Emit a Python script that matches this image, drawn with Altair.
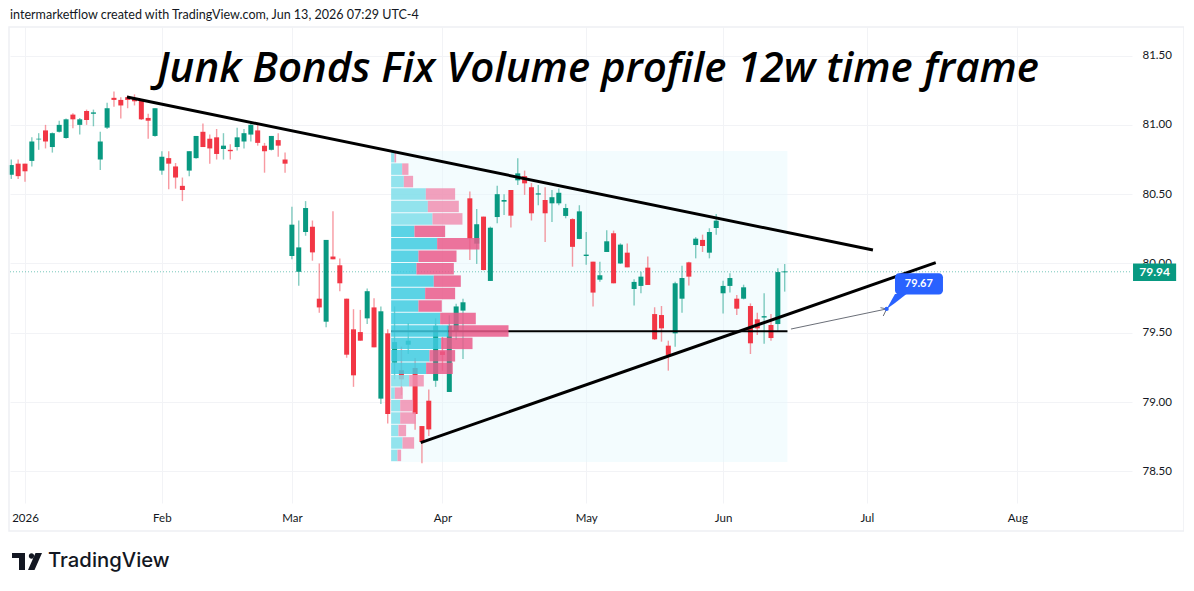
import altair as alt
import pandas as pd

highs = [80.75,80.75,80.72,80.91,80.94,81.00,80.945,81.03,81.045,81.084,81.05,81.11,81.11,80.95,81.16,81.24,81.20,81.21,81.22,81.18,81.08,81.12,80.81,80.81,80.725,80.62,80.81,80.92,81.01,80.93,80.97,80.94,80.86,80.98,80.97,81.02,81.01,80.87,80.92,80.94,80.80,
 80.41,80.31,80.45,80.31,80.0,80.17,80.376,80.035,79.746,79.67,79.665,79.82,79.75,79.69,79.525,79.69,79.40,79.57,79.318,78.827,79.09,79.604,79.47,79.626,79.71,79.745,
 80.52,80.393,80.338,80.266,80.56,80.5,80.53,80.76,80.67,80.58,80.566,80.55,80.53,80.54,80.43,80.326,80.42,80.227,80.013,80.013,80.24,80.237,80.145,80.145,79.886,79.94,80.05,
 79.684,79.693,79.443,79.869,79.984,80.013,80.19,80.208,80.254,80.357,79.876,79.929,79.772,79.847,79.712,79.645,79.785,79.635,79.965,79.996]
opens = [80.64,80.72,80.72,80.74,80.895,80.96,80.84,80.95,80.905,81.074,81.00,81.10,81.08,80.75,80.98,81.195,81.18,81.20,81.19,81.175,81.05,80.92,80.67,80.76,80.70,80.56,80.67,80.76,80.95,80.90,80.91,80.826,80.82,80.84,80.88,80.93,80.96,80.85,80.82,80.89,80.75,
 80.054,79.94,80.227,80.265,79.746,79.58,80.05,79.987,79.746,79.525,79.505,79.604,79.683,79.025,79.496,79.284,79.23,79.414,79.246,78.827,79.01,79.154,79.366,79.073,79.51,79.66,
 80.47,80.143,80.338,79.874,80.335,80.446,80.53,80.6,80.63,80.55,80.497,80.458,80.434,80.434,80.343,80.32,80.177,80.054,80.013,79.883,80.083,80.218,80.0,80.078,79.816,79.838,79.97,
 79.635,79.628,79.407,79.496,79.746,80.008,80.133,80.17,80.078,80.256,79.785,79.838,79.746,79.746,79.693,79.597,79.61,79.556,79.563,79.936]
closes = [80.71,80.63,80.665,80.88,80.90,80.88,80.94,81.00,81.04,81.04,81.04,81.035,81.09,80.88,81.12,81.18,81.14,81.18,81.17,81.04,81.03,81.12,80.77,80.72,80.62,80.53,80.81,80.92,80.84,80.83,80.79,80.85,80.81,80.91,80.94,81.00,80.87,80.81,80.92,80.85,80.72,
 80.28,80.116,80.40,80.08,79.683,80.17,80.03,79.857,79.342,79.193,79.443,79.80,79.395,79.655,78.914,79.433,79.164,79.443,78.914,78.712,78.803,79.55,79.34,79.55,79.69,79.72,
 80.18,80.283,79.953,80.258,80.5,80.458,80.345,80.65,80.578,80.362,80.506,80.362,80.478,80.51,80.40,80.12,80.376,80.064,79.79,79.915,80.16,79.857,80.136,79.972,79.867,79.905,79.845,
 79.453,79.532,79.34,79.857,79.895,79.905,80.179,80.126,80.227,80.309,79.838,79.895,79.674,79.828,79.424,79.532,79.62,79.462,79.938,79.943]
lows = [80.61,80.61,80.59,80.70,80.82,80.83,80.80,80.945,80.90,80.975,80.93,81.00,80.99,80.675,80.97,81.13,81.045,81.12,81.14,81.035,80.90,80.915,80.64,80.535,80.54,80.45,80.63,80.755,80.84,80.72,80.75,80.75,80.75,80.815,80.83,80.88,80.85,80.655,80.815,80.77,80.655,
 80.03,79.84,80.20,80.02,79.645,79.54,80.03,79.80,79.32,79.11,79.443,79.563,79.395,78.986,78.846,79.164,79.05,79.347,78.80,78.558,78.755,79.11,79.226,79.073,79.45,79.31,
 80.025,79.997,79.95,79.874,80.29,80.35,80.26,80.567,80.495,80.31,80.42,80.155,80.30,80.42,80.326,79.977,80.175,79.99,79.689,79.869,80.083,79.857,79.997,79.972,79.696,79.785,79.845,
 79.448,79.436,79.227,79.40,79.645,79.842,80.037,80.083,80.037,80.208,79.64,79.79,79.628,79.741,79.347,79.484,79.42,79.443,79.515,79.797]

vp_buy = [0.49,1.61,1.85,5.07,5.36,6.04,3.41,6.72,3.99,3.70,6.23,4.97,3.99,7.16,8.38,7.31,5.60,5.11,2.63,0.54,1.32,1.32,1.07,1.66,0.93]
vp_total = [0.73,2.53,3.21,9.35,9.89,10.42,7.89,12.91,9.55,9.16,10.18,9.35,7.40,12.37,17.15,11.89,9.35,9.01,4.77,1.70,3.21,3.60,2.19,3.36,1.46]
value_area_rows = range(6, 18)

month_ticks = [0, 20, 39, 61, 82, 102, 123, 145]
month_names = ["2026", "Feb", "Mar", "Apr", "May", "Jun", "Jul", "Aug"]
price_ticks = [78.5, 79.0, 79.5, 80.0, 80.5, 81.0, 81.5]

line_a = {"i": [14.9, 123.9], "p": [81.201, 80.097]}
line_b = {"i": [57.82, 133.07], "p": [78.707, 80.006]}
poc = {"i": [53.5, 111.41], "p": [79.511, 79.511]}
arrow = {"i": [111.92, 125.9], "p": [79.527, 79.672]}
barb1 = {"i": [125.0, 125.9], "p": [79.681, 79.672]}
barb2 = {"i": [125.4, 125.9], "p": [79.621, 79.672]}

GREEN, RED, INK = "#089981", "#F23645", "#131722"
FONT = "Lato"
XD, YD = [-2.19, 161.75], [78.272, 81.706]

month_map = ",".join(f"'{t}':'{n}'" for t, n in zip(month_ticks, month_names))
xaxis = alt.Axis(values=month_ticks, labelExpr="{" + month_map + "}[datum.value]", title=None,
                 tickSize=0, domain=False, grid=True, gridColor="#f2f3f6", gridWidth=1,
                 labelColor=INK, labelFont=FONT, labelFontSize=11.5, labelPadding=9,
                 labelOverlap=False, labelFlush=False, labelBound=False)
yaxis = alt.Axis(values=price_ticks, format=".2f", orient="right", title=None, tickSize=0,
                 domain=False, grid=True, gridColor="#f2f3f6", gridWidth=1, labelColor=INK,
                 labelFont=FONT, labelFontSize=11.5, labelPadding=10, labelOverlap=False,
                 labelFlush=False, labelBound=False)
X = lambda f: alt.X(f, type="quantitative", scale=alt.Scale(domain=XD, nice=False, zero=False, padding=0), title=None, axis=xaxis)
Y = lambda f: alt.Y(f, type="quantitative", scale=alt.Scale(domain=YD, nice=False, zero=False, padding=0), title=None, axis=yaxis)

candles = pd.DataFrame({"i": [n - 2 for n in range(len(highs))], "o": opens, "h": highs, "l": lows, "c": closes})
is_up = "datum.c >= datum.o"

step = 0.0898
top = 80.812
start = 53.5
vp = pd.DataFrame({
    "top": [top - k * step for k in range(25)],
    "bot": [top - (k + 1) * step + 0.007 for k in range(25)],
    "x0": [start] * 25,
    "x1": [start + b for b in vp_buy],
    "x2": [start + t for t in vp_total],
    "va": [k in value_area_rows for k in range(25)],
})

one = pd.DataFrame({"a": [0]})
box = alt.Chart(pd.DataFrame({"a": [53.5], "b": [111.41], "t": [80.812], "u": [78.568]})).mark_rect(
    color="#e4f8fc", opacity=0.45).encode(x=X("a"), x2="b", y=Y("t"), y2="u")
cur = alt.Chart(pd.DataFrame({"i": XD, "p": [79.94, 79.94]})).mark_line(
    color=GREEN, strokeDash=[1, 2], strokeWidth=1, opacity=0.55).encode(x=X("i"), y=Y("p"))
wicks = alt.Chart(candles).mark_rule(strokeWidth=1.4, opacity=0.5).encode(
    x=X("i"), y=Y("h"), y2="l",
    color=alt.condition(is_up, alt.value(GREEN), alt.value(RED)))
bodies = alt.Chart(candles).mark_bar(size=5, orient="vertical").encode(
    x=X("i"), y=Y("o"), y2="c",
    color=alt.condition(is_up, alt.value(GREEN), alt.value(RED)))


def path(d, color, width, **kw):
    return alt.Chart(pd.DataFrame(d)).mark_line(color=color, strokeWidth=width, strokeCap="butt", **kw).encode(
        x=X("i"), y=Y("p"))


poc_line = path(poc, "#000000", 2.2)
vp_b = alt.Chart(vp).mark_rect(opacity=0.85).encode(
    x=X("x0"), x2="x1", y=Y("top"), y2="bot",
    color=alt.condition("datum.va", alt.value("#3fcbe0"), alt.value("#80deea")))
vp_s = alt.Chart(vp).mark_rect(opacity=0.85).encode(
    x=X("x1"), x2="x2", y=Y("top"), y2="bot",
    color=alt.condition("datum.va", alt.value("#ea5a8b"), alt.value("#f08fb1")))

la = path(line_a, "#000000", 3)
lb = path(line_b, "#000000", 3)
ar = path(arrow, "#6b6f78", 1)
b1 = path(barb1, "#6b6f78", 1)
b2 = path(barb2, "#6b6f78", 1)

BLUE = "#2962FF"
wedge = alt.Chart(pd.DataFrame({"i": [125.9, 127.12, 128.8], "p": [79.672, 79.78, 79.78], "q": [79.672, 79.714, 79.78]})).mark_area(
    color=BLUE).encode(x=X("i"), y=Y("p"), y2="q")
callout = alt.Chart(pd.DataFrame({"a": [127.12], "b": [134.13], "t": [79.929], "u": [79.776]})).mark_rect(
    color=BLUE, cornerRadius=4).encode(x=X("a"), x2="b", y=Y("t"), y2="u")
dot = alt.Chart(pd.DataFrame({"i": [125.9], "p": [79.672]})).mark_circle(color=BLUE, size=18, opacity=1).encode(
    x=X("i"), y=Y("p"))
callout_t = alt.Chart(pd.DataFrame({"i": [130.6], "p": [79.853], "t": ["79.67"]})).mark_text(
    color="white", font=FONT, fontSize=11, fontWeight="bold").encode(x=X("i"), y=Y("p"), text="t")
price_box = alt.Chart(pd.DataFrame({"a": [161.9], "b": [168.2], "t": [79.999], "u": [79.874]})).mark_rect(
    color=GREEN).encode(x=X("a"), x2="b", y=Y("t"), y2="u")
price_t = alt.Chart(pd.DataFrame({"i": [165.05], "p": [79.936], "t": ["79.94"]})).mark_text(
    color="white", font=FONT, fontSize=12, fontWeight="bold").encode(x=X("i"), y=Y("p"), text="t")

frame = alt.Chart(one).mark_rect(fillOpacity=0, stroke="#eef0f4", strokeWidth=1.5).encode(
    x=alt.value(-1), x2=alt.value(1174), y=alt.value(0), y2=alt.value(504))
note = alt.Chart(pd.DataFrame({"t": ["intermarketflow created with TradingView.com, Jun 13, 2026 07:29 UTC-4"]})).mark_text(
    align="left", baseline="middle", color=INK, font=FONT, fontSize=12.55).encode(x=alt.value(0), y=alt.value(-12), text="t")
LOGO = ("M-0.483,-0.267L-0.05,-0.267L-0.05,0.3L-0.25,0.3L-0.25,-0.1L-0.483,-0.1Z"
        "M0.077,-0.167A0.09,0.09 0 1,0 0.257,-0.167A0.09,0.09 0 1,0 0.077,-0.167Z"
        "M0.3,-0.267L0.517,-0.267L0.267,0.3L0.05,0.3Z")
logo = alt.Chart(one).mark_point(shape=LOGO, size=3600, filled=True, color="#131722", opacity=1).encode(
    x=alt.value(16.5), y=alt.value(534))
brand = alt.Chart(pd.DataFrame({"t": ["TradingView"]})).mark_text(
    align="left", baseline="middle", color="#131722", font="Inter", fontSize=20.3, fontWeight=500).encode(
    x=alt.value(38), y=alt.value(534), text="t")

chart = alt.layer(box, cur, wicks, bodies, poc_line, vp_b, vp_s, la, lb, ar, b1, b2,
                  wedge, callout, dot, callout_t, price_box, price_t, frame, note, logo, brand).properties(
    width=1122, height=476, background="white",
    padding={"left": 2, "top": 19, "right": 52, "bottom": 75},
    autosize=alt.AutoSizeParams(type="none"),
    title=alt.TitleParams("Junk Bonds Fix Volume profile 12w time frame", anchor="start", frame="group", dx=147, dy=82,
                          offset=0, font="Open Sans", fontSize=42, fontStyle="italic", fontWeight=600, color="#000000", align="left"),
).configure_view(stroke=None)

chart.save("out.html", embed_options={"renderer": "svg", "actions": False})
